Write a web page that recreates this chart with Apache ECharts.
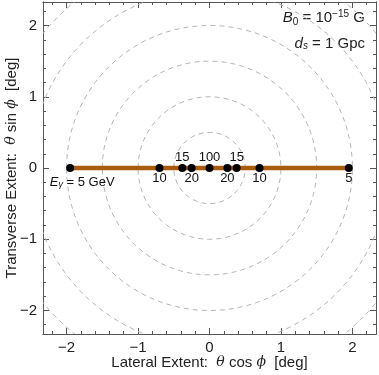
<!DOCTYPE html>
<html>
<head>
<meta charset="utf-8">
<script src="https://cdn.jsdelivr.net/npm/echarts@6/dist/echarts.min.js"></script>
<style>
html,body{margin:0;padding:0;background:#fff;}
#main{width:379px;height:375px;}
</style>
</head>
<body>
<div id="main"></div>
<script>
// photon arrival offsets along the lateral axis (deg)
var pointX = [-1.95, -0.70, -0.38, -0.25, 0, 0.25, 0.38, 0.70, 1.95];
var pointLabels = ['{i|E}{s|γ} = 5 GeV', '10', '15', '20', '100', '20', '15', '10', '5'];
var labelPos = ['bottom', 'bottom', 'top', 'bottom', 'top', 'bottom', 'top', 'bottom', 'bottom'];
var circleRadii = [0.5, 1, 1.5, 2, 2.5, 3];
var majorTicks = [-2, -1, 0, 1, 2];
var minorTicks = [-2.2, -1.8, -1.6, -1.4, -1.2, -0.8, -0.6, -0.4, -0.2,
                  0.2, 0.4, 0.6, 0.8, 1.2, 1.4, 1.6, 1.8, 2.2];

var myChart = echarts.init(document.getElementById('main'));
var frameColor = '#555';
var lim = 2.33;

function axisSet(pos, major, withLabel, nameStr, rich) {
    var a = {
        type: 'value',
        position: pos,
        min: -lim,
        max: lim,
        axisLine: {show: true, onZero: false, lineStyle: {color: frameColor, width: 1}},
        axisTick: {
            show: true, inside: true, length: major ? 6 : 3,
            customValues: major ? majorTicks : minorTicks,
            lineStyle: {color: frameColor}
        },
        axisLabel: {
            show: withLabel,
            customValues: majorTicks,
            fontFamily: 'Liberation Sans',
            fontSize: 15,
            color: '#222',
            margin: 6,
            formatter: function (v) { return v < 0 ? '\u2212' + (-v) : '' + v; }
        },
        splitLine: {show: false}
    };
    if (nameStr) {
        a.name = nameStr;
        a.nameLocation = 'middle';
        a.nameMoveOverlap = false;
        a.nameTextStyle = {fontFamily: 'Liberation Sans', fontSize: 15, color: '#222', rich: rich};
    }
    return a;
}

var nameRich = {
    g: {fontFamily: 'DejaVu Serif', fontStyle: 'italic', fontSize: 14, color: '#222'}
};

var xa0 = axisSet('bottom', true, true, 'Lateral Extent:  {g|θ} cos {g|ϕ}  [deg]', nameRich);
xa0.nameGap = 21;
var ya0 = axisSet('left', true, true, 'Transverse Extent:  {g|θ} sin {g|ϕ}  [deg]', nameRich);
ya0.nameGap = 24;
ya0.nameRotate = 90;

var option = {
    animation: false,
    grid: {left: 43, right: 3, top: 2, bottom: 41, containLabel: false, outerBoundsMode: 'none'},
    xAxis: [
        xa0,
        axisSet('bottom', false, false),
        axisSet('top', true, false),
        axisSet('top', false, false)
    ],
    yAxis: [
        ya0,
        axisSet('left', false, false),
        axisSet('right', true, false),
        axisSet('right', false, false)
    ],
    graphic: [
        {
            type: 'text', right: 14, top: 9,
            style: {
                text: '{i|B}{s|0} = 10{p|−15} G',
                font: '15px Liberation Sans', fill: '#222',
                rich: {
                    i: {fontStyle: 'italic', fontSize: 15, fontFamily: 'Liberation Sans'},
                    s: {fontSize: 10, verticalAlign: 'bottom', padding: [6, 0, 0, 0], fontFamily: 'Liberation Sans'},
                    p: {fontSize: 10, verticalAlign: 'top', padding: [0, 0, 8, 0], fontFamily: 'Liberation Sans'}
                }
            }
        },
        {
            type: 'text', right: 14, top: 36,
            style: {
                text: '{i|d}{s|s} = 1 Gpc',
                font: '15px Liberation Sans', fill: '#222',
                rich: {
                    i: {fontStyle: 'italic', fontSize: 15, fontFamily: 'Liberation Sans'},
                    s: {fontStyle: 'italic', fontSize: 10, verticalAlign: 'bottom', padding: [6, 0, 0, 0], fontFamily: 'Liberation Sans'}
                }
            }
        }
    ],
    series: [
        {
            type: 'custom',
            xAxisIndex: 0,
            yAxisIndex: 0,
            silent: true,
            data: circleRadii,
            renderItem: function (params, api) {
                var r = api.value(0);
                var c = api.coord([0, 0]);
                var sz = api.size([r, r]);
                return {
                    type: 'ellipse',
                    shape: {cx: c[0], cy: c[1], rx: sz[0], ry: sz[1]},
                    style: {fill: null, stroke: '#b5b5b5', lineWidth: 1, lineDash: [5, 4]},
                    clipPath: {
                        type: 'rect',
                        shape: {x: params.coordSys.x, y: params.coordSys.y,
                                width: params.coordSys.width, height: params.coordSys.height}
                    }
                };
            }
        },
        {
            type: 'line',
            xAxisIndex: 0,
            yAxisIndex: 0,
            symbol: 'none',
            silent: true,
            lineStyle: {color: '#a85c0c', width: 4.5},
            data: pointX.map(function (x) { return [x, 0]; })
        },
        {
            type: 'scatter',
            xAxisIndex: 0,
            yAxisIndex: 0,
            symbolSize: 8,
            itemStyle: {color: '#000', opacity: 1},
            z: 5,
            data: pointX.map(function (x, i) {
                var item = {
                    value: [x, 0],
                    label: {
                        show: true,
                        position: labelPos[i],
                        distance: 0,
                        formatter: pointLabels[i],
                        fontFamily: 'Liberation Sans',
                        fontSize: 13,
                        color: '#111',
                        rich: {
                            i: {fontStyle: 'italic', fontSize: 13, fontFamily: 'Liberation Sans', color: '#111'},
                            s: {fontStyle: 'italic', fontSize: 9, fontFamily: 'Liberation Sans', color: '#111', verticalAlign: 'bottom', padding: [5, 0, 0, 0]}
                        }
                    }
                };
                if (i === 0) item.label.offset = [12, 3];
                return item;
            })
        }
    ]
};

myChart.setOption(option);
</script>
</body>
</html>
